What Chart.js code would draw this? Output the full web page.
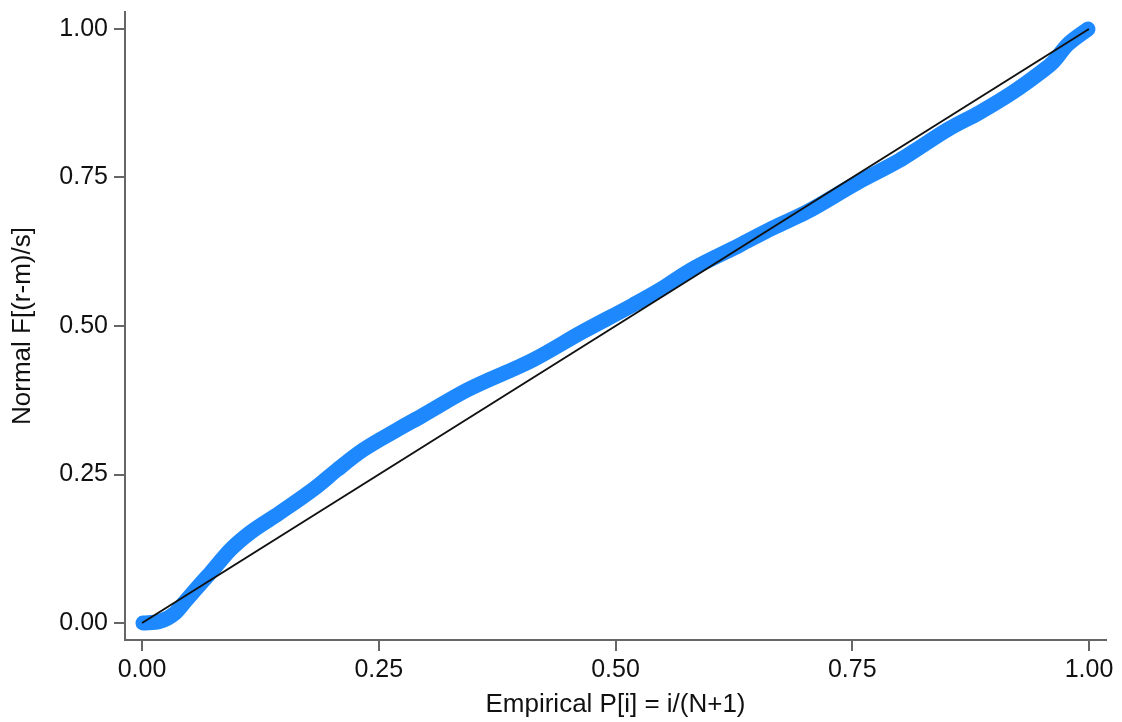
<!DOCTYPE html>
<html>
<head>
<meta charset="utf-8">
<script src="https://cdn.jsdelivr.net/npm/chart.js@4"></script>
<style>
  html, body { margin: 0; padding: 0; background: #fff; }
  #wrap { width: 1122px; height: 722px; position: relative; }
</style>
</head>
<body>
<div id="wrap"><canvas id="ppplot"></canvas></div>
<script>
// empirical P[i] vs normal F[(r-m)/s]
const empiricalP = [0.001, 0.019, 0.035, 0.047, 0.068, 0.072, 0.093, 0.114, 0.145, 0.184,
    0.206, 0.233, 0.269, 0.297, 0.343, 0.413, 0.465, 0.518, 0.547, 0.579,
    0.631, 0.666, 0.702, 0.755, 0.800, 0.814, 0.850, 0.885, 0.920, 0.948,
    0.962, 0.977, 0.999];
const normalF = [0.000, 0.003, 0.017, 0.039, 0.077, 0.084, 0.123, 0.152, 0.185, 0.229,
    0.258, 0.291, 0.325, 0.350, 0.392, 0.443, 0.490, 0.535, 0.561, 0.594,
    0.636, 0.665, 0.692, 0.741, 0.779, 0.793, 0.830, 0.860, 0.894, 0.926,
    0.944, 0.973, 1.000];
const refX = [0, 1];
const refY = [0, 1];
const tickValues = [0, 0.25, 0.5, 0.75, 1];

const fontFam = '"Liberation Sans", Arial, Helvetica, sans-serif';
const axisGrey = '#666666';
const textCol = '#111111';

const points = empiricalP.map((x, i) => ({ x: x, y: normalF[i] }));
const refPoints = refX.map((x, i) => ({ x: x, y: refY[i] }));

function fixTicks(scale) {
    scale.ticks = tickValues.map(v => ({ value: v }));
}

const ctx = document.getElementById('ppplot').getContext('2d');
const ppplot = new Chart(ctx, {
    type: 'scatter',
    data: {
        datasets: [{
            label: 'reference',
            data: refPoints,
            showLine: true,
            borderColor: '#111111',
            borderWidth: 2,
            pointRadius: 0,
            fill: false
        }, {
            label: 'observed',
            data: points,
            showLine: true,
            borderColor: 'rgb(30, 137, 255)',
            backgroundColor: 'rgb(30, 137, 255)',
            borderWidth: 15,
            borderCapStyle: 'round',
            borderJoinStyle: 'round',
            cubicInterpolationMode: 'monotone',
            pointRadius: 0,
            fill: false
        }]
    },
    options: {
        responsive: true,
        maintainAspectRatio: false,
        animation: false,
        layout: {
            padding: { top: 12, right: 16, left: 0, bottom: 0 }
        },
        plugins: {
            legend: { display: false },
            tooltip: { enabled: false }
        },
        scales: {
            x: {
                type: 'linear',
                min: -0.018,
                max: 1.018,
                afterBuildTicks: fixTicks,
                afterFit: s => { s.height = 82; },
                ticks: {
                    callback: v => Number(v).toFixed(2),
                    font: { family: fontFam, size: 25 },
                    color: textCol,
                    padding: 4,
                    maxRotation: 0,
                    autoSkip: false
                },
                grid: {
                    display: true,
                    drawOnChartArea: false,
                    drawTicks: true,
                    tickLength: 11,
                    color: axisGrey,
                    lineWidth: 2
                },
                border: { display: true, color: axisGrey, width: 2 },
                title: {
                    display: true,
                    text: 'Empirical P[i] = i/(N+1)',
                    font: { family: fontFam, size: 26 },
                    color: textCol,
                    padding: { top: 0, bottom: 2 }
                }
            },
            y: {
                type: 'linear',
                min: -0.0286,
                max: 1.0286,
                afterBuildTicks: fixTicks,
                afterFit: s => {
                    s.width = 125;
                    s.paddingTop = 0;
                    s.paddingBottom = 0;
                },
                ticks: {
                    callback: v => Number(v).toFixed(2),
                    font: { family: fontFam, size: 25 },
                    color: textCol,
                    padding: 6,
                    autoSkip: false
                },
                grid: {
                    display: true,
                    drawOnChartArea: false,
                    drawTicks: true,
                    tickLength: 11,
                    color: axisGrey,
                    lineWidth: 2
                },
                border: { display: true, color: axisGrey, width: 2 },
                title: {
                    display: true,
                    text: 'Normal F[(r-m)/s]',
                    font: { family: fontFam, size: 26 },
                    color: textCol,
                    padding: { top: 7, bottom: 0 }
                }
            }
        }
    }
});
</script>
</body>
</html>
